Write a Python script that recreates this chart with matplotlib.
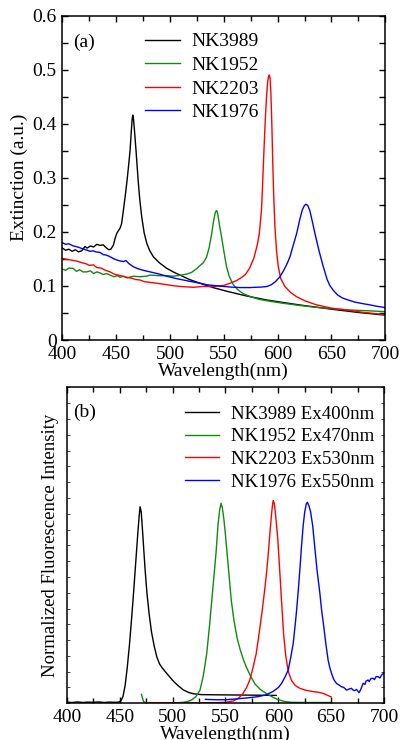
import matplotlib
matplotlib.use("Agg")
import matplotlib.pyplot as plt
from matplotlib.ticker import MultipleLocator

plt.rcParams['font.family'] = ['Liberation Serif', 'DejaVu Serif']

# ---------------- (a) extinction spectra ----------------
ext_labels = ["NK3989", "NK1952", "NK2203", "NK1976"]
ext_colors = ["#000000", "#108a10", "#ff0000", "#0000ff"]

nk3989_wl = [400, 403, 406, 409, 412, 415, 418, 421, 423, 426, 429, 432, 435, 438, 441, 443,
             445, 447.4, 449, 450.5, 452, 453.6, 455, 456.7, 458.3, 459.8, 461.4, 462.9, 464,
             464.8, 465.4, 466, 466.8, 468.4, 469.5, 470.6, 472, 473.7, 476, 478.4, 481, 484.5,
             490, 497, 503, 509.3, 518, 527.9, 540, 554.2, 570, 590, 620, 650, 675, 700]
nk3989_ext = [0.170, 0.166, 0.168, 0.164, 0.167, 0.163, 0.165, 0.173, 0.170, 0.174, 0.172, 0.177,
              0.175, 0.176, 0.170, 0.167, 0.168, 0.1755, 0.188, 0.197, 0.202, 0.207, 0.215, 0.240,
              0.265, 0.290, 0.320, 0.351, 0.385, 0.408, 0.416, 0.410, 0.392, 0.351, 0.320, 0.290,
              0.258, 0.228, 0.198, 0.179, 0.166, 0.154, 0.143, 0.1325, 0.126, 0.120, 0.112, 0.105,
              0.097, 0.0895, 0.082, 0.074, 0.065, 0.057, 0.051, 0.046]

nk1952_wl = [400, 403, 406, 410, 413, 416, 419, 422.7, 426, 429, 432, 435, 438, 441, 444.3, 448,
             451, 453.6, 457, 460, 466, 472, 478, 481.5, 490, 497, 503, 510, 515.5, 520, 524.8,
             528, 531, 534.1, 536.5, 538.8, 540.5, 541.8, 542.6, 543.2, 543.9, 544.8, 546, 547.8,
             550, 552.5, 555, 558.6, 563, 567.9, 575, 583.3, 595, 605, 620, 635.8, 650, 666.7,
             685, 700]
nk1952_ext = [0.131, 0.129, 0.133, 0.1325, 0.127, 0.130, 0.126, 0.126, 0.128, 0.123, 0.126, 0.124,
              0.121, 0.123, 0.120, 0.117, 0.119, 0.116, 0.118, 0.115, 0.118, 0.117, 0.118, 0.120,
              0.119, 0.119, 0.118, 0.120, 0.122, 0.125, 0.132, 0.138, 0.143, 0.154, 0.172, 0.197,
              0.220, 0.233, 0.238, 0.2395, 0.237, 0.228, 0.212, 0.192, 0.165, 0.136, 0.118, 0.103,
              0.093, 0.086, 0.080, 0.075, 0.071, 0.068, 0.064, 0.0605, 0.058, 0.0556, 0.054,
              0.0525]

nk2203_wl = [400, 404, 408, 413.4, 418, 422, 425, 428.8, 432, 436, 440, 444.3, 448, 452, 456,
             459.8, 465, 468, 472.2, 476, 480, 487.7, 495, 503.1, 510, 521.7, 530, 540, 550, 555.8,
             562, 566, 570, 574, 578, 581, 583, 585, 586, 587.3, 588.5, 589.7, 590.8, 591.6, 592.3,
             593, 593.8, 594.7, 595.6, 596.5, 597.5, 599, 600.6, 603, 606.8, 612, 617.7, 626,
             636.3, 650, 664.1, 680, 700]
nk2203_ext = [0.151, 0.149, 0.148, 0.146, 0.143, 0.141, 0.138, 0.139, 0.134, 0.133, 0.129, 0.126,
              0.122, 0.120, 0.118, 0.116, 0.114, 0.112, 0.111, 0.108, 0.107, 0.105, 0.103, 0.1005,
              0.099, 0.0975, 0.099, 0.099, 0.101, 0.105, 0.110, 0.115, 0.121, 0.133, 0.152, 0.175,
              0.197, 0.240, 0.285, 0.350, 0.405, 0.450, 0.478, 0.488, 0.490, 0.484, 0.455, 0.395,
              0.320, 0.260, 0.210, 0.165, 0.136, 0.113, 0.099, 0.088, 0.080, 0.072, 0.065, 0.059,
              0.0555, 0.051, 0.047]

nk1976_wl = [400, 403, 406, 410, 413.4, 417, 420, 423, 426, 428.8, 431, 434.9, 438, 441, 444.3,
             448, 452, 456.7, 459, 462, 466, 470, 475, 481.5, 490, 497, 505, 512.4, 520, 527.9,
             535, 545, 555.8, 565, 574.3, 585, 590, 594, 598, 602.2, 606, 609, 611.5, 614.5, 617.7,
             620.5, 623, 625, 626.3, 628, 630, 632.3, 634.7, 638.5, 642.4, 646, 648.5, 651.7, 656,
             660, 664.1, 672, 680, 685.8, 692, 700]
nk1976_ext = [0.180, 0.177, 0.178, 0.174, 0.1725, 0.170, 0.168, 0.166, 0.164, 0.165, 0.163, 0.162,
              0.158, 0.157, 0.154, 0.150, 0.147, 0.145, 0.147, 0.141, 0.1355, 0.132, 0.129, 0.126,
              0.122, 0.118, 0.114, 0.111, 0.108, 0.105, 0.102, 0.100, 0.098, 0.097, 0.097, 0.098,
              0.099, 0.102, 0.108, 0.117, 0.130, 0.142, 0.154, 0.175, 0.197, 0.222, 0.241, 0.249,
              0.251, 0.249, 0.239, 0.219, 0.197, 0.165, 0.136, 0.112, 0.101, 0.092, 0.083, 0.078,
              0.075, 0.070, 0.067, 0.065, 0.0625, 0.060]

# ---------------- (b) fluorescence spectra ----------------
fl_labels = ["NK3989 Ex400nm", "NK1952 Ex470nm", "NK2203 Ex530nm", "NK1976 Ex550nm"]

fl3989_wl = [400, 405, 410, 415, 420, 425, 430, 435, 440, 445, 449, 451, 453, 455, 457, 459, 461,
             463, 465, 467, 468.3, 469.2, 470.2, 471.3, 472.5, 474, 475.8, 477.8, 480, 482.5, 485,
             487.5, 490, 493, 497, 501, 505, 510, 515, 520, 527, 540, 560, 580, 598]
fl3989_val = [0.006, 0.004, 0.007, 0.004, 0.006, 0.005, 0.007, 0.004, 0.006, 0.005, 0.006, 0.012,
              0.035, 0.090, 0.180, 0.290, 0.420, 0.560, 0.710, 0.860, 0.950, 0.995, 0.970, 0.890,
              0.790, 0.670, 0.550, 0.450, 0.360, 0.290, 0.235, 0.200, 0.180, 0.160, 0.135, 0.110,
              0.090, 0.068, 0.055, 0.048, 0.044, 0.043, 0.042, 0.041, 0.040]

fl1952_wl = [470.5, 471.5, 472.5, 475, 485, 495, 505, 510, 514, 518, 522, 525.9, 529, 532.2, 535,
             537, 539, 541, 543, 544.5, 545.8, 547, 548.5, 550, 551.5, 553.5, 555.5, 558, 561, 564,
             567, 570, 574, 578, 583, 589, 595, 600, 606, 612, 625, 640, 650]
fl1952_val = [0.045, 0.025, 0.008, 0.003, 0.002, 0.002, 0.003, 0.005, 0.009, 0.017, 0.034, 0.067,
              0.140, 0.250, 0.400, 0.520, 0.640, 0.760, 0.910, 0.980, 1.013, 0.990, 0.930, 0.850,
              0.760, 0.640, 0.520, 0.420, 0.330, 0.270, 0.220, 0.180, 0.135, 0.097, 0.070, 0.048,
              0.030, 0.018, 0.009, 0.005, 0.004, 0.004, 0.004]

fl2203_wl = [480, 500, 520, 540, 550, 557.4, 562, 566, 570, 573.1, 576, 579, 582, 584.5, 587, 589,
             590.5, 592, 593.5, 594.5, 595.2, 596, 596.8, 598, 599.5, 601, 603, 605, 607, 609.5,
             612.5, 616, 620.4, 626, 633, 638, 642.4, 646, 650]
fl2203_val = [0.003, 0.002, 0.002, 0.003, 0.005, 0.012, 0.025, 0.045, 0.080, 0.120, 0.180, 0.250,
              0.360, 0.460, 0.570, 0.670, 0.760, 0.860, 0.955, 1.005, 1.026, 1.015, 0.985, 0.920,
              0.830, 0.700, 0.520, 0.350, 0.240, 0.160, 0.115, 0.090, 0.076, 0.066, 0.059, 0.056,
              0.050, 0.042, 0.032]

fl1976_wl = [531, 540, 550, 560, 570, 580, 588, 595, 600, 603, 606, 609.4, 612, 614.1, 616, 617.3,
             619, 620.4, 622, 623.5, 625, 626.5, 627.5, 629, 630.5, 632.5, 634.5, 636.5, 639.3, 641,
             643, 645, 647.1, 648.5, 650.3, 652.5, 655, 657, 659.7, 662, 664.5, 667, 669.2, 670.5,
             672, 674, 676.4, 678, 680.2, 682, 683, 684.9, 686, 687.5, 689.6, 691, 692.5, 694.4,
             696, 698.4, 700]
fl1976_val = [0.020, 0.018, 0.018, 0.022, 0.027, 0.033, 0.042, 0.060, 0.080, 0.100, 0.130, 0.169,
              0.240, 0.304, 0.400, 0.472, 0.580, 0.680, 0.800, 0.900, 0.970, 1.010, 1.018, 1.000,
              0.970, 0.900, 0.790, 0.680, 0.557, 0.470, 0.388, 0.300, 0.219, 0.185, 0.152, 0.120,
              0.101, 0.094, 0.084, 0.080, 0.067, 0.072, 0.076, 0.068, 0.064, 0.070, 0.054, 0.070,
              0.101, 0.096, 0.112, 0.118, 0.110, 0.125, 0.127, 0.120, 0.135, 0.135, 0.128, 0.148,
              0.150]

fig = plt.figure(figsize=(4.0, 7.4), dpi=100)

FS = 14
LW = 1.0


def style_axis(ax):
    for s in ax.spines.values():
        s.set_linewidth(1.1)
    ax.set_xlim(400, 700)
    ax.xaxis.set_major_locator(MultipleLocator(50))
    ax.xaxis.set_minor_locator(MultipleLocator(25))
    ax.tick_params(axis='x', which='both', direction='in', top=True, bottom=True,
                   labelsize=FS, pad=4)
    ax.tick_params(axis='x', which='major', length=4.5, width=1.0)
    ax.tick_params(axis='x', which='minor', length=3.5, width=1.0)


# (a)
ax1 = fig.add_axes([0.156, 0.5405, 0.807, 0.4385])
style_axis(ax1)
ext_wl = [nk3989_wl, nk1952_wl, nk2203_wl, nk1976_wl]
ext_val = [nk3989_ext, nk1952_ext, nk2203_ext, nk1976_ext]
for wl, v, c, lab in zip(ext_wl, ext_val, ext_colors, ext_labels):
    ax1.plot(wl, v, color=c, lw=LW, label=lab)
ax1.set_ylim(0, 0.6)
ax1.yaxis.set_minor_locator(MultipleLocator(0.05))
ax1.set_yticks([0, 0.1, 0.2, 0.3, 0.4, 0.5, 0.6])
ax1.set_yticklabels(["0", "0.1", "0.2", "0.3", "0.4", "0.5", "0.6"])
ax1.tick_params(axis='y', which='both', direction='in', left=True, right=True,
                labelsize=FS, pad=4)
ax1.tick_params(axis='y', which='major', length=4.5, width=1.0)
ax1.tick_params(axis='y', which='minor', length=4.5, width=1.0)
ax1.set_xlabel("Wavelength(nm)", fontsize=FS, labelpad=0)
ax1.set_ylabel("Extinction (a.u.)", fontsize=FS, labelpad=3)
ax1.text(0.033, 0.918, "(a)", transform=ax1.transAxes, fontsize=FS, ha='left', va='center')
ax1.legend(loc='upper left', bbox_to_anchor=(0.255, 0.947), frameon=False, fontsize=FS,
           handlelength=1.8, handletextpad=0.6, labelspacing=0.31, borderpad=0,
           borderaxespad=0)

# (b)
ax2 = fig.add_axes([0.1675, 0.0496, 0.7925, 0.427])
style_axis(ax2)
fl_wl = [fl3989_wl, fl1952_wl, fl2203_wl, fl1976_wl]
fl_val = [fl3989_val, fl1952_val, fl2203_val, fl1976_val]
for wl, v, c, lab in zip(fl_wl, fl_val, ext_colors, fl_labels):
    ax2.plot(wl, v, color=c, lw=LW, label=lab)
ax2.set_ylim(0, 1.6)
ax2.yaxis.set_major_locator(MultipleLocator(0.08))
ax2.tick_params(axis='y', which='major', direction='in', left=True, right=True,
                labelleft=False, length=2.5, width=0.5)
ax2.set_xlabel("Wavelength(nm)", fontsize=FS, labelpad=0)
ax2.set_ylabel("Normalized Fluorescence Intensity", fontsize=13.5, labelpad=6)
ax2.text(0.02, 0.92, "(b)", transform=ax2.transAxes, fontsize=FS, ha='left', va='center')
ax2.legend(loc='upper left', bbox_to_anchor=(0.372, 0.943), frameon=False, fontsize=13.6,
           handlelength=1.8, handletextpad=0.66, labelspacing=0.29, borderpad=0,
           borderaxespad=0)

fig.savefig("out.png", dpi=100)
